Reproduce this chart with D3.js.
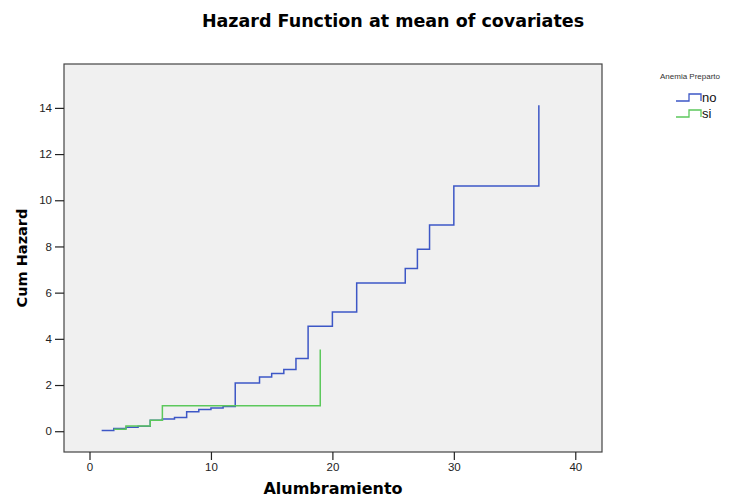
<!DOCTYPE html>
<html>
<head>
<meta charset="utf-8">
<script src="https://cdn.jsdelivr.net/npm/d3@7"></script>
<style>
  body { margin: 0; background: #fff; }
  text { font-family: "Liberation Sans", Arial, sans-serif; }
  .bold { font-family: "DejaVu Sans", Verdana, sans-serif; font-weight: bold; }
</style>
</head>
<body>
<div id="chart"></div>
<script>
// step data
let noTimes = [1, 2, 3, 4, 5, 6, 7, 8, 9, 10, 11, 12, 14, 15, 16, 17, 18, 20, 22, 26, 27, 28, 30, 37];
let noValues = [0.03, 0.12, 0.17, 0.22, 0.48, 0.53, 0.59, 0.84, 0.94, 1.0, 1.07, 2.09, 2.35, 2.5, 2.67, 3.15, 4.55, 5.16, 6.42, 7.04, 7.88, 8.93, 10.62, 14.11];
let siTimes = [2, 3, 5, 6, 19];
let siValues = [0.09, 0.23, 0.48, 1.1, 3.54];
let xTicks = [0, 10, 20, 30, 40];
let yTicks = [0, 2, 4, 6, 8, 10, 12, 14];
let groups = ["no", "si"];
let colors = ["#3d57c6", "#5cc85c"];

let width = 738, height = 499;
let plot = { left: 64, top: 64, right: 602, bottom: 452 };

let svg = d3.select("#chart").append("svg")
  .attr("width", width)
  .attr("height", height);

let x = d3.scaleLinear().domain([-2.1, 42.2]).range([plot.left, plot.right]);
let y = d3.scaleLinear().domain([-0.9, 15.9]).range([plot.bottom, plot.top]);

// plot background + frame
svg.append("rect")
  .attr("x", plot.left).attr("y", plot.top)
  .attr("width", plot.right - plot.left)
  .attr("height", plot.bottom - plot.top)
  .attr("fill", "#f0f0f0")
  .attr("stroke", "#444")
  .attr("stroke-width", 1.2);

// axes
let xAxis = svg.append("g")
  .attr("transform", "translate(0," + plot.bottom + ")")
  .call(d3.axisBottom(x).tickValues(xTicks).tickSize(8).tickPadding(3));
let yAxis = svg.append("g")
  .attr("transform", "translate(" + plot.left + ",0)")
  .call(d3.axisLeft(y).tickValues(yTicks).tickSize(9).tickPadding(3));

[xAxis, yAxis].forEach(function (a) {
  a.select(".domain").remove();
  a.selectAll("line").attr("stroke", "#222").attr("stroke-width", 1.2);
  a.selectAll("text")
    .attr("fill", "#222")
    .style("font-size", "11.5px")
    .style("font-family", "'Liberation Sans', Arial, sans-serif");
});

// series
let line = d3.line()
  .x(function (d) { return x(d[0]); })
  .y(function (d) { return y(d[1]); })
  .curve(d3.curveStepAfter);

let series = [d3.zip(noTimes, noValues), d3.zip(siTimes, siValues)];

svg.selectAll("path.series")
  .data(series)
  .enter()
  .append("path")
  .attr("class", "series")
  .attr("d", line)
  .attr("fill", "none")
  .attr("stroke", function (d, i) { return colors[i]; })
  .attr("stroke-width", 1.5);

// title and axis labels
svg.append("text")
  .attr("class", "bold")
  .attr("x", 393).attr("y", 27)
  .attr("text-anchor", "middle")
  .style("font-size", "17.5px")
  .text("Hazard Function at mean of covariates");

svg.append("text")
  .attr("class", "bold")
  .attr("x", 333).attr("y", 494)
  .attr("text-anchor", "middle")
  .style("font-size", "16px")
  .text("Alumbramiento");

svg.append("text")
  .attr("class", "bold")
  .attr("transform", "translate(27,258) rotate(-90)")
  .attr("text-anchor", "middle")
  .style("font-size", "14.5px")
  .text("Cum Hazard");

// legend
let legend = svg.append("g").attr("transform", "translate(660,0)");
legend.append("text")
  .attr("x", 0).attr("y", 79)
  .style("font-size", "8px")
  .attr("fill", "#333")
  .text("Anemia Preparto");

let item = legend.selectAll("g.item")
  .data(groups)
  .enter()
  .append("g")
  .attr("class", "item")
  .attr("transform", function (d, i) { return "translate(0," + (97 + i * 16) + ")"; });

item.append("path")
  .attr("d", "M16,4H29V-3H41V4")
  .attr("fill", "none")
  .attr("stroke", function (d, i) { return colors[i]; })
  .attr("stroke-width", 1.3);

item.append("text")
  .attr("x", 42).attr("y", 5)
  .style("font-size", "13px")
  .attr("fill", "#111")
  .text(function (d) { return d; });
</script>
</body>
</html>
